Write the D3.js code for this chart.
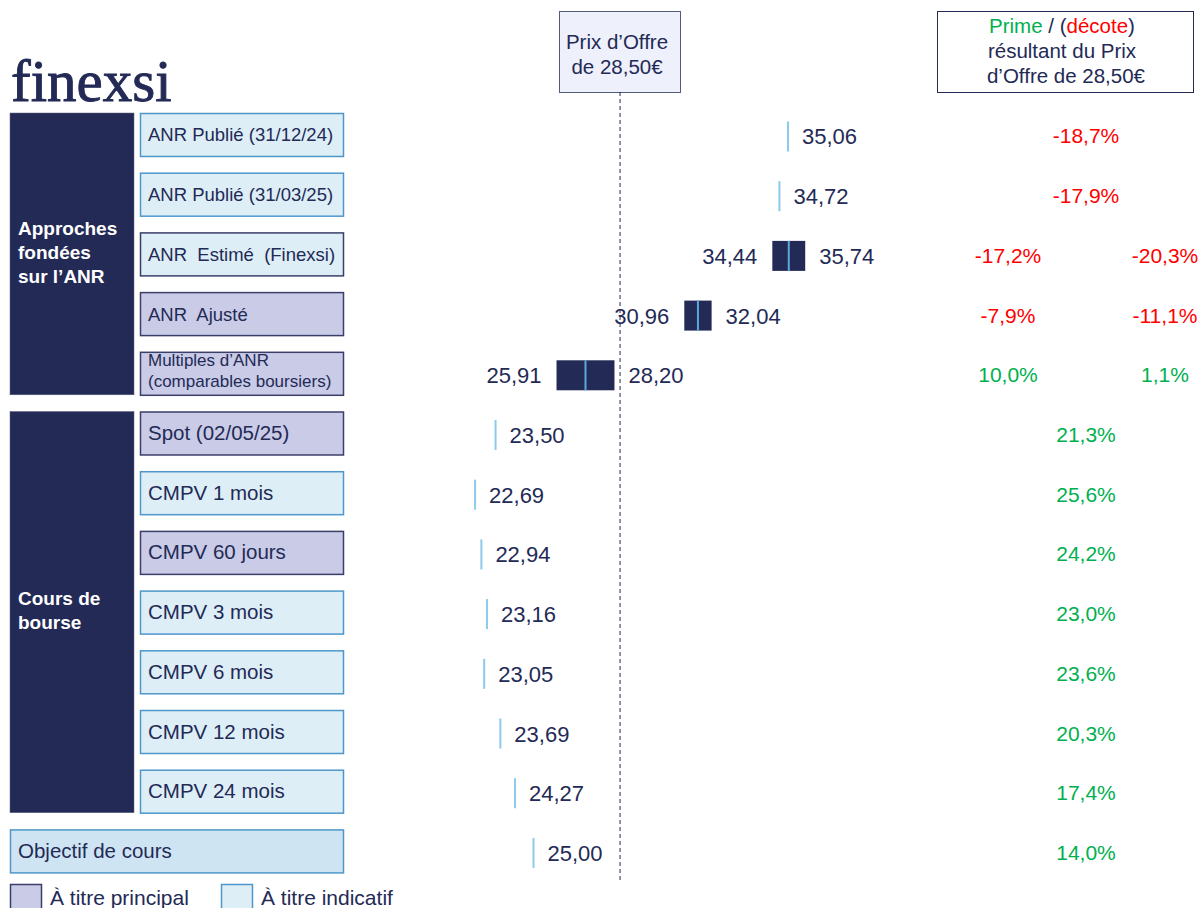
<!DOCTYPE html>
<html>
<head>
<meta charset="utf-8">
<script src="https://cdn.jsdelivr.net/npm/d3@7"></script>
<style>
  body { margin: 0; background: #fff; }
  svg { display: block; font-family: "Liberation Sans", Arial, sans-serif; }
</style>
</head>
<body>
<div id="chart"></div>
<script>
// rows of the football field
const labels = [
    "ANR Publié (31/12/24)", "ANR Publié (31/03/25)", "ANR  Estimé  (Finexsi)", "ANR  Ajusté",
    "Multiples d’ANR|(comparables boursiers)", "Spot (02/05/25)", "CMPV 1 mois", "CMPV 60 jours",
    "CMPV 3 mois", "CMPV 6 mois", "CMPV 12 mois", "CMPV 24 mois", "Objectif de cours"
];
const lows  = [35.06, 34.72, 34.44, 30.96, 25.91, 23.50, 22.69, 22.94, 23.16, 23.05, 23.69, 24.27, 25.00];
const highs = [null, null, 35.74, 32.04, 28.20, null, null, null, null, null, null, null, null];
const kinds = ["ind", "ind", "ind", "main", "main", "main", "ind", "main", "ind", "ind", "ind", "ind", "obj"];

// premium / (discount) vs offer price, in %
const premLow  = [-18.7, -17.9, -17.2, -7.9, 10.0, 21.3, 25.6, 24.2, 23.0, 23.6, 20.3, 17.4, 14.0];
const premHigh = [null, null, -20.3, -11.1, 1.1, null, null, null, null, null, null, null, null];

const groupNames  = ["Approches|fondées|sur l’ANR", "Cours de|bourse"];
const groupFirst  = [0, 5];
const groupLast   = [4, 11];

const offerPrice = 28.50;
const legendItems = ["À titre principal", "À titre indicatif"];

const width = 1203, height = 908;
const navy = "#232a55";
const green = "#00b050";
const red = "#ff0000";
const tick = "#8ccbeb";
const fills = { main: "#c9cbe7", ind: "#ddeef7", obj: "#cfe4f3" };
const strokes = { main: "#3a3f6a", ind: "#4f97cb", obj: "#4f97cb" };

const svg = d3.select("#chart").append("svg")
    .attr("width", width)
    .attr("height", height);

const x = d3.scaleLinear().domain([20, 40]).range([407, 913]);
const y = d3.scaleBand().domain(d3.range(labels.length))
    .range([113, 113 + 12 * 59.7 + 43])
    .paddingInner(0.28).paddingOuter(0);
const bw = y.bandwidth();
const cy = i => y(i) + bw / 2 + 2;
const fmt = v => d3.format(".2f")(v).replace(".", ",");
const fmtPct = v => d3.format(".1f")(v).replace(".", ",").replace("−", "-") + "%";

// logo
svg.append("text")
    .attr("x", 11).attr("y", 101)
    .attr("font-family", "'Liberation Serif', 'DejaVu Serif', serif")
    .attr("font-size", 59)
    .attr("fill", navy)
    .attr("stroke", navy).attr("stroke-width", 0.9)
    .text("finexsi");

// header boxes
const h1 = svg.append("g");
h1.append("rect").attr("x", 559.5).attr("y", 11.5).attr("width", 121).attr("height", 81)
    .attr("fill", "#eef0fb").attr("stroke", "#555a78");
h1.selectAll("text").data(["Prix d’Offre", "de 28,50€"]).join("text")
    .attr("x", 617).attr("y", (d, i) => 49 + i * 25)
    .attr("text-anchor", "middle").attr("font-size", 20.5).attr("fill", navy)
    .text(d => d);

const h2 = svg.append("g");
h2.append("rect").attr("x", 937.5).attr("y", 11.5).attr("width", 256).attr("height", 81)
    .attr("fill", "#fff").attr("stroke", navy);
const t1 = h2.append("text").attr("x", 1062).attr("y", 33)
    .attr("text-anchor", "middle").attr("font-size", 20.5).attr("fill", navy);
t1.append("tspan").attr("fill", green).text("Prime");
t1.append("tspan").text(" / (");
t1.append("tspan").attr("fill", red).text("décote");
t1.append("tspan").text(")");
h2.selectAll("text.sub").data(["résultant du Prix", "d’Offre de 28,50€"]).join("text")
    .attr("class", "sub")
    .attr("x", (d, i) => 1062 + i * 4).attr("y", (d, i) => 58 + i * 25)
    .attr("text-anchor", "middle").attr("font-size", 20.5).attr("fill", navy)
    .text(d => d);

// offer price dashed line
svg.append("line")
    .attr("x1", x(offerPrice) - 2).attr("x2", x(offerPrice) - 2)
    .attr("y1", 92).attr("y2", 883)
    .attr("stroke", navy).attr("stroke-width", 1)
    .attr("stroke-dasharray", "4,3");

// group blocks
groupNames.forEach((name, gi) => {
    const top = y(groupFirst[gi]);
    const bottom = y(groupLast[gi]) + bw;
    svg.append("rect")
        .attr("x", 10).attr("y", top).attr("width", 124).attr("height", bottom - top)
        .attr("fill", navy).attr("stroke", "#5b6080").attr("stroke-width", 0.5);
    const lines = name.split("|");
    const mid = (top + bottom) / 2;
    svg.append("g").selectAll("text").data(lines).join("text")
        .attr("x", 18)
        .attr("y", (d, i) => mid + (i - (lines.length - 1) / 2) * 24 + 5)
        .attr("font-size", 19).attr("font-weight", "bold").attr("fill", "#fff")
        .text(d => d);
});

// row label boxes
const rows = svg.append("g").selectAll("g").data(labels).join("g");
rows.append("rect")
    .attr("x", (d, i) => kinds[i] === "obj" ? 10.5 : 140.5)
    .attr("y", (d, i) => y(i) + 0.5)
    .attr("width", (d, i) => kinds[i] === "obj" ? 333 : 203)
    .attr("height", bw)
    .attr("fill", (d, i) => fills[kinds[i]])
    .attr("stroke", (d, i) => i === 2 ? "#3a3f6a" : strokes[kinds[i]])
    .attr("stroke-width", 1.5);
rows.each(function (d, i) {
    const lines = d.split("|");
    const small = lines.length > 1;
    d3.select(this).selectAll("text").data(lines).join("text")
        .attr("x", kinds[i] === "obj" ? 18 : 148)
        .attr("y", (l, j) => y(i) + bw / 2 + (j - (lines.length - 1) / 2) * 21 + (small ? 3 : 7))
        .attr("font-size", small ? 17 : (i < 4 ? 18.5 : 20.5))
        .attr("fill", navy)
        .attr("xml:space", "preserve")
        .style("white-space", "pre")
        .text(l => l);
});

// marks
const marks = svg.append("g").selectAll("g").data(lows).join("g");
marks.each(function (v, i) {
    const g = d3.select(this);
    const c = cy(i);
    if (highs[i] === null) {
        g.append("rect")
            .attr("x", x(v) - 1).attr("y", c - 15).attr("width", 2).attr("height", 30)
            .attr("fill", tick);
        g.append("text")
            .attr("x", x(v) + 14).attr("y", c + 8)
            .attr("font-size", 22).attr("fill", navy)
            .text(fmt(v));
    } else {
        const mid = (v + highs[i]) / 2;
        g.append("rect")
            .attr("x", x(v)).attr("y", c - 15)
            .attr("width", x(highs[i]) - x(v)).attr("height", 30)
            .attr("fill", navy);
        g.append("rect")
            .attr("x", x(mid) - 1).attr("y", c - 15).attr("width", 2).attr("height", 30)
            .attr("fill", "#5aa8dc");
        g.append("text")
            .attr("x", x(v) - 15).attr("y", c + 8)
            .attr("text-anchor", "end")
            .attr("font-size", 22).attr("fill", navy)
            .text(fmt(v));
        g.append("text")
            .attr("x", x(highs[i]) + 14).attr("y", c + 8)
            .attr("font-size", 22).attr("fill", navy)
            .text(fmt(highs[i]));
    }
});

// premium / discount column(s)
const prem = svg.append("g").selectAll("g").data(premLow).join("g");
prem.each(function (p, i) {
    const g = d3.select(this);
    const c = cy(i);
    const two = premHigh[i] !== null;
    g.append("text")
        .attr("x", two ? 1008 : 1086).attr("y", c + 7)
        .attr("text-anchor", "middle").attr("font-size", 21)
        .attr("fill", p < 0 ? red : green)
        .text(fmtPct(p));
    if (two) {
        g.append("text")
            .attr("x", 1165).attr("y", c + 7)
            .attr("text-anchor", "middle").attr("font-size", 21)
            .attr("fill", premHigh[i] < 0 ? red : green)
            .text(fmtPct(premHigh[i]));
    }
});

// legend
const legend = svg.append("g").selectAll("g").data(legendItems).join("g")
    .attr("transform", (d, i) => `translate(${i === 0 ? 10 : 221},884)`);
legend.append("rect")
    .attr("x", 0.5).attr("y", 0.5).attr("width", 31).attr("height", 30)
    .attr("fill", (d, i) => i === 0 ? fills.main : fills.ind)
    .attr("stroke", (d, i) => i === 0 ? "#3a3f6a" : strokes.ind)
    .attr("stroke-width", 1.5);
legend.append("text")
    .attr("x", 40).attr("y", 21)
    .attr("font-size", 21).attr("fill", navy)
    .text(d => d);
</script>
</body>
</html>
